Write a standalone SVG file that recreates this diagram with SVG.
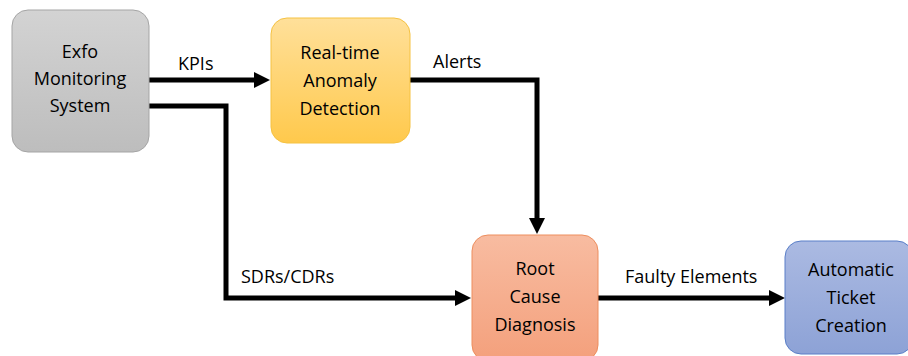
<svg xmlns="http://www.w3.org/2000/svg" width="908" height="356" viewBox="0 0 908 356">
<style>
text{font-family:"Open Sans","Liberation Sans",sans-serif;font-size:18px;fill:#000}
.c{text-anchor:middle}
.e{fill:none;stroke:#000;stroke-width:5}
</style>
<defs>
<linearGradient id="gg" x1="0" y1="0" x2="0" y2="1"><stop offset="0" stop-color="#d3d3d3"/><stop offset="1" stop-color="#bdbdbd"/></linearGradient>
<linearGradient id="gy" x1="0" y1="0" x2="0" y2="1"><stop offset="0" stop-color="#ffe09a"/><stop offset="1" stop-color="#ffc94c"/></linearGradient>
<linearGradient id="go" x1="0" y1="0" x2="0" y2="1"><stop offset="0" stop-color="#f8bca1"/><stop offset="1" stop-color="#f4a07c"/></linearGradient>
<linearGradient id="gb" x1="0" y1="0" x2="0" y2="1"><stop offset="0" stop-color="#abbae2"/><stop offset="1" stop-color="#8da2d6"/></linearGradient>
<marker id="ah" markerWidth="16" markerHeight="16" viewBox="0 0 16 16" refX="4" refY="8" orient="auto" markerUnits="userSpaceOnUse"><path d="M0,0 L16,8 L0,16 Z" fill="#000"/></marker>
</defs>
<g id="connectors">
<path class="e" d="M149,80 H258" marker-end="url(#ah)"/>
<path class="e" d="M149,106 H226 V298 H459" marker-end="url(#ah)"/>
<path class="e" d="M410,80 H537 V222" marker-end="url(#ah)"/>
<path class="e" d="M598,298 H773" marker-end="url(#ah)"/>
<text x="178" y="70">KPIs</text>
<text x="433" y="68">Alerts</text>
<text x="241" y="283">SDRs/CDRs</text>
<text x="625" y="283">Faulty Elements</text>
</g>
<g id="exfo">
<rect x="12" y="10" width="137" height="142" rx="16" fill="url(#gg)" stroke="#a5a5a5"/>
<text class="c" x="80" y="58">Exfo</text>
<text class="c" x="80" y="85">Monitoring</text>
<text class="c" x="80" y="112">System</text>
</g>
<g id="anomaly">
<rect x="271" y="18" width="139" height="125" rx="16" fill="url(#gy)" stroke="#f5c242"/>
<text class="c" x="340" y="59">Real-time</text>
<text class="c" x="340" y="87">Anomaly</text>
<text class="c" x="340" y="115">Detection</text>
</g>
<g id="rootcause">
<rect x="472" y="235" width="126" height="126" rx="16" fill="url(#go)" stroke="#ed8e5e"/>
<text class="c" x="535" y="275">Root</text>
<text class="c" x="535" y="303">Cause</text>
<text class="c" x="535" y="331">Diagnosis</text>
</g>
<g id="ticket">
<rect x="785" y="241" width="128" height="113" rx="16" fill="url(#gb)" stroke="#5a7fc8"/>
<text class="c" x="851" y="276">Automatic</text>
<text class="c" x="851" y="304">Ticket</text>
<text class="c" x="851" y="332">Creation</text>
</g>
</svg>
